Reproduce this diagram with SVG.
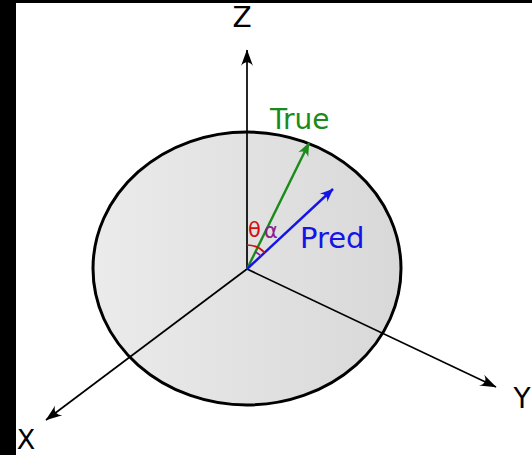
<svg xmlns="http://www.w3.org/2000/svg" width="532" height="455" viewBox="0 0 532 455">
<defs>
<linearGradient id="g" x1="0" y1="0" x2="1" y2="0">
<stop offset="0" stop-color="#ebebeb"/>
<stop offset="1" stop-color="#d8d8d8"/>
</linearGradient>
<marker id="ak" viewBox="-18 -8 20 16" markerWidth="20" markerHeight="16" refX="0" refY="0" orient="auto" markerUnits="userSpaceOnUse">
<path d="M 0.5,0 L -16,-6 C -11,-2.3 -11,2.3 -16,6 z" fill="#000"/>
</marker>
<marker id="ag" viewBox="-18 -8 20 16" markerWidth="20" markerHeight="16" refX="0" refY="0" orient="auto" markerUnits="userSpaceOnUse">
<path d="M 0.5,0 L -13,-5.5 C -9,-2 -9,2 -13,5.5 z" fill="#1a8a1a"/>
</marker>
<marker id="ab" viewBox="-18 -8 20 16" markerWidth="20" markerHeight="16" refX="0" refY="0" orient="auto" markerUnits="userSpaceOnUse">
<path d="M 0.5,0 L -13,-5.5 C -9,-2 -9,2 -13,5.5 z" fill="#1414e6"/>
</marker>
</defs>
<style>
text{font-family:"DejaVu Sans",sans-serif}
.ax{stroke:#000;stroke-width:1.7;fill:none}
</style>
<rect x="0" y="0" width="532" height="455" fill="#000"/>
<rect x="16" y="3" width="516" height="452" fill="#fff"/>
<g id="sphere">
<ellipse cx="247" cy="268.5" rx="154" ry="136.5" fill="url(#g)" stroke="#000" stroke-width="3"/>
</g>
<g id="connectors">
<line class="ax" x1="247" y1="269" x2="247" y2="50" marker-end="url(#ak)"/>
<line class="ax" x1="247" y1="269" x2="46" y2="420" marker-end="url(#ak)"/>
<line class="ax" x1="247" y1="269" x2="496" y2="387" marker-end="url(#ak)"/>
<line x1="247" y1="269" x2="309" y2="143" stroke="#1a8a1a" stroke-width="2.4" marker-end="url(#ag)"/>
<line x1="247" y1="269" x2="333" y2="189" stroke="#1414e6" stroke-width="2.4" marker-end="url(#ab)"/>
<path d="M 247,245 A 24,24 0 0 1 264.6,252.6" fill="none" stroke="#d01010" stroke-width="1.6"/>
<path d="M 255.3,252 A 19,19 0 0 1 260.9,256" fill="none" stroke="#8a2090" stroke-width="1.6"/>
</g>
<g id="labels">
<text x="242" y="27" font-size="28" text-anchor="middle" fill="#000">Z</text>
<text x="26" y="449" font-size="27" text-anchor="middle" fill="#000">X</text>
<text x="522" y="408" font-size="28" text-anchor="middle" fill="#000">Y</text>
<text x="270" y="129" font-size="28" fill="#1a8a1a">True</text>
<text x="300" y="248" font-size="29" fill="#1414e6">Pred</text>
<text x="248" y="237" font-size="21" fill="#d01010">θ</text>
<text x="264" y="238" font-size="21" fill="#8a2090">α</text>
</g>
</svg>
